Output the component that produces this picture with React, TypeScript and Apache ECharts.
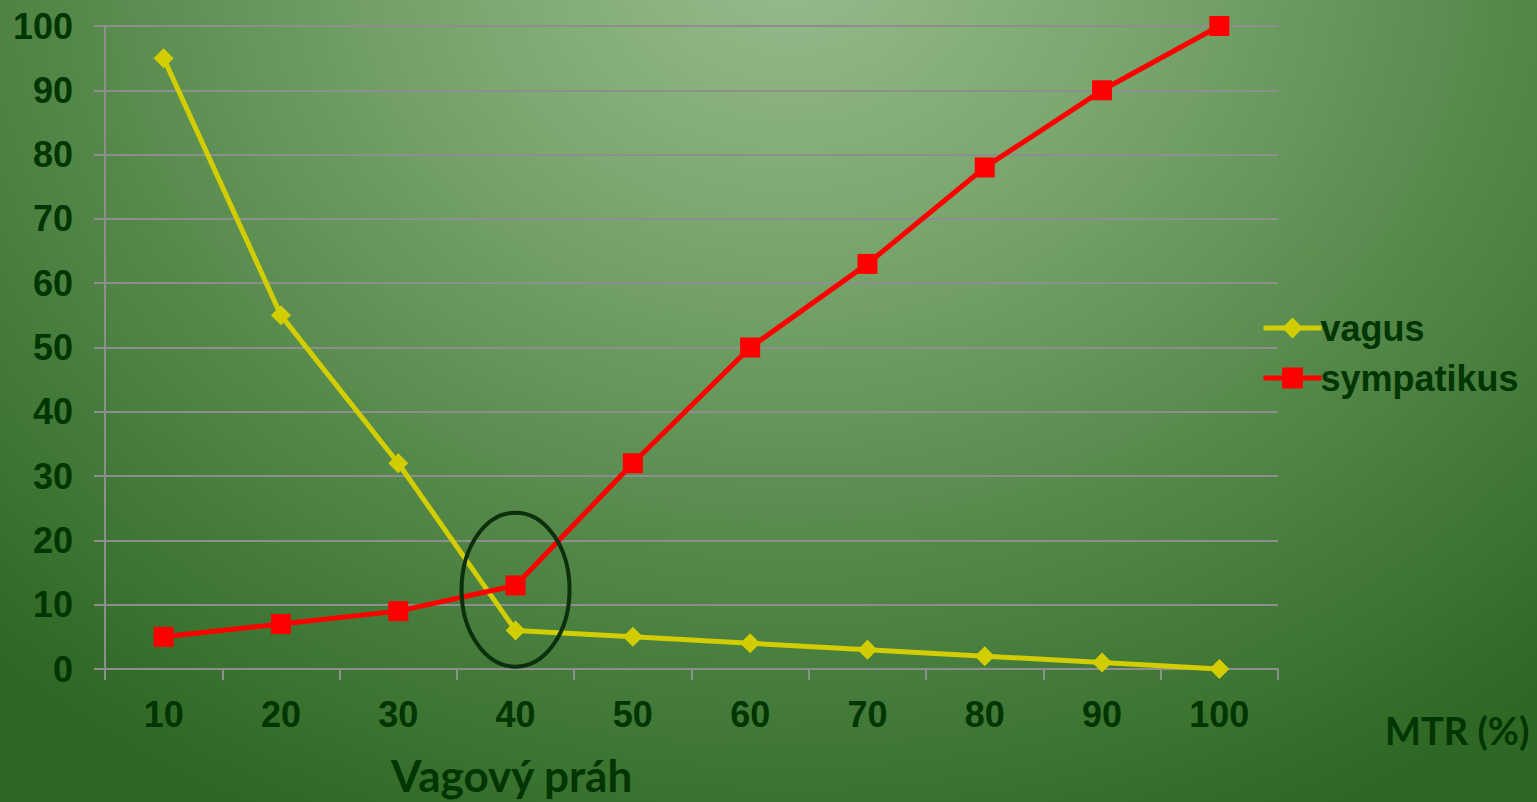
import React, { useEffect, useRef } from "react";
import * as echarts from "echarts";

const categories = ["10", "20", "30", "40", "50", "60", "70", "80", "90", "100"];
const vagus = [95, 55, 32, 6, 5, 4, 3, 2, 1, 0];
const sympatikus = [5, 7, 9, 13, 32, 50, 63, 78, 90, 100];
const yMin = 0;
const yMax = 100;
const yInterval = 10;
const xTitle = "MTR (%)";
const noteText = "Vagový práh";
const noteCategory = "40";
const noteValue = 12.5;

const TEXT = "#013501";
const GRID = "#8e8e8e";

export default function App() {
  const ref = useRef<HTMLDivElement>(null);
  useEffect(() => {
    if (!ref.current) return;
    const chart = echarts.init(ref.current, undefined, { renderer: "svg" });
    chart.setOption({
      animation: false,
      backgroundColor: "transparent",
      textStyle: { fontFamily: "Liberation Sans", fontWeight: "bold", color: TEXT },
      grid: { left: 105, right: 259, top: 26, bottom: 133, containLabel: false },
      legend: {
        orient: "vertical",
        left: 1256,
        top: 305,
        itemWidth: 58,
        itemHeight: 26,
        itemGap: 14,
        lineStyle: { width: 5 },
        textStyle: { fontFamily: "Liberation Sans", fontWeight: "bold", fontSize: 36, color: TEXT, padding: [0, 0, 0, -6] },
        data: ["vagus", "sympatikus"],
      },
      xAxis: {
        type: "category",
        data: categories,
        boundaryGap: true,
        axisLine: { show: true, lineStyle: { color: GRID, width: 2 } },
        axisTick: { show: true, length: 11, lineStyle: { color: GRID, width: 2 }, alignWithLabel: false },
        axisLabel: { fontSize: 36, fontWeight: "bold", color: TEXT, margin: 27, fontFamily: "Liberation Sans" },
        splitLine: { show: false },
      },
      yAxis: {
        type: "value",
        min: yMin,
        max: yMax,
        interval: yInterval,
        axisLine: { show: true, lineStyle: { color: GRID, width: 2 } },
        axisTick: { show: true, length: 11, lineStyle: { color: GRID, width: 2 } },
        axisLabel: { fontSize: 36, fontWeight: "bold", color: TEXT, margin: 32, fontFamily: "Liberation Sans" },
        splitLine: { show: true, lineStyle: { color: GRID, width: 2 } },
      },
      series: [
        {
          name: "vagus",
          type: "line",
          data: vagus,
          symbol: "diamond",
          symbolSize: 20,
          showSymbol: true,
          lineStyle: { color: "#d2cd00", width: 5 },
          itemStyle: { color: "#d2cd00" },
          z: 3,
        },
        {
          name: "sympatikus",
          type: "line",
          data: sympatikus,
          symbol: "rect",
          symbolSize: 20,
          showSymbol: true,
          lineStyle: { color: "#ff0000", width: 5 },
          itemStyle: { color: "#ff0000" },
          z: 4,
        },
      ],
    });
    const c = chart.convertToPixel({ xAxisIndex: 0, yAxisIndex: 0 }, [noteCategory, noteValue]) as number[];
    chart.setOption({
      graphic: [
        {
          type: "ellipse",
          shape: { cx: c[0], cy: c[1] + 1, rx: 54, ry: 77 },
          style: { fill: "transparent", stroke: "#0b300b", lineWidth: 4 },
          z: 10,
        },
        {
          type: "text",
          left: 1385,
          top: 711,
          style: { text: xTitle, fontFamily: "Lato", fontWeight: "bold", fontSize: 38, fill: TEXT },
        },
        {
          type: "text",
          left: 391,
          top: 753,
          style: { text: noteText, fontFamily: "Lato", fontWeight: "bold", fontSize: 44, fill: TEXT },
        },
      ],
    });
    return () => chart.dispose();
  }, []);
  return (
    <div
      style={{
        position: "absolute",
        left: 0,
        top: 0,
        width: 1537,
        height: 802,
        background:
          "radial-gradient(ellipse 1150px 950px at 790px -40px, #98bb8d 0%, #7aa66e 30%, #55894a 62%, #2e6824 100%)",
      }}
    >
      <div ref={ref} style={{ width: 1537, height: 802 }} />
    </div>
  );
}
